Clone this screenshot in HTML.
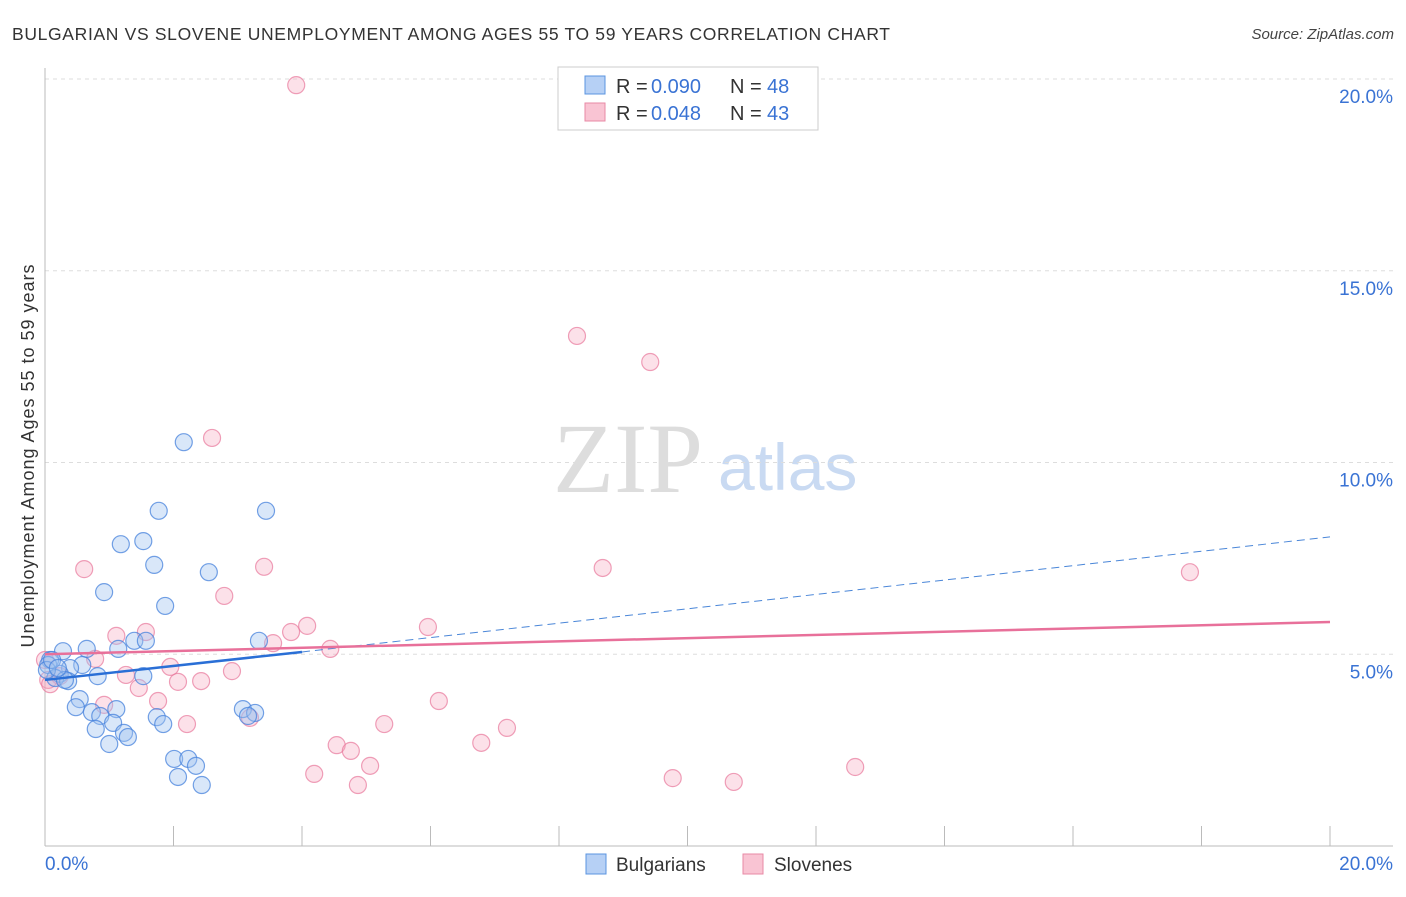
<!DOCTYPE html>
<html><head><meta charset="utf-8"><style>
body{margin:0;background:#fff;font-family:"Liberation Sans",sans-serif;}
</style></head><body>
<svg id="chart" width="1406" height="892" xmlns="http://www.w3.org/2000/svg" font-family="Liberation Sans, sans-serif">
<text x="12" y="40" font-size="17.5" fill="#333" textLength="878" lengthAdjust="spacing">BULGARIAN VS SLOVENE UNEMPLOYMENT AMONG AGES 55 TO 59 YEARS CORRELATION CHART</text>
<text x="1394" y="39" font-size="15" fill="#444" text-anchor="end" font-style="italic">Source: ZipAtlas.com</text>
<text x="553" y="492" font-size="100" fill="#ddd" style="font-family:'Liberation Serif',serif">ZIP</text>
<text x="718" y="490" font-size="66" fill="#c9daf2">atlas</text>
<text transform="translate(34,456) rotate(-90)" font-size="18" fill="#333" text-anchor="middle" textLength="383" lengthAdjust="spacing">Unemployment Among Ages 55 to 59 years</text>
<g id="grid"></g><g id="axes"></g><g id="pts"></g><g id="trends"></g>
<g>
<rect x="558" y="67" width="260" height="63" fill="#fff" stroke="#ccc"/>
<rect x="585" y="76" width="20" height="18" fill="#b6d0f5" stroke="#5b94e0"/>
<rect x="585" y="103" width="20" height="18" fill="#f9c4d3" stroke="#e88aa6"/>
<text x="616" y="93" font-size="20" fill="#333">R =</text>
<text x="651" y="93" font-size="20" fill="#3a73d4">0.090</text>
<text x="730" y="93" font-size="20" fill="#333">N =</text>
<text x="767" y="93" font-size="20" fill="#3a73d4">48</text>
<text x="616" y="120" font-size="20" fill="#333">R =</text>
<text x="651" y="120" font-size="20" fill="#3a73d4">0.048</text>
<text x="730" y="120" font-size="20" fill="#333">N =</text>
<text x="767" y="120" font-size="20" fill="#3a73d4">43</text>
</g>
<g>
<rect x="586" y="854" width="20" height="20" fill="#b6d0f5" stroke="#5b94e0"/>
<text x="616" y="871" font-size="19" fill="#333">Bulgarians</text>
<rect x="743" y="854" width="20" height="20" fill="#f9c4d3" stroke="#e88aa6"/>
<text x="774" y="871" font-size="19" fill="#333">Slovenes</text>
</g>
</svg>
<script>
const yTicks=[5,10,15,20];
const yTickLabels=["5.0%","10.0%","15.0%","20.0%"];
const xEndLabels=["0.0%","20.0%"];
const bulgX=[2.16,1.77,3.44,1.18,1.53,1.70,2.55,0.92,1.87,3.33,1.39,1.57,1.14,0.65,0.28,0.08,0.05,0.58,0.39,0.23,0.16,0.82,1.53,0.36,0.54,0.48,0.73,0.86,1.11,1.06,1.74,1.84,0.79,1.23,1.29,1.00,3.08,3.27,3.16,2.01,2.23,2.35,2.07,2.44,0.03,0.11,0.31,0.20];
const bulgY=[10.53,8.74,8.74,7.87,7.95,7.33,7.14,6.62,6.26,5.35,5.35,5.35,5.14,5.14,5.08,4.85,4.72,4.72,4.64,4.49,4.38,4.43,4.43,4.30,3.83,3.62,3.49,3.39,3.57,3.21,3.36,3.18,3.05,2.95,2.84,2.66,3.57,3.47,3.39,2.27,2.27,2.09,1.80,1.59,4.59,4.85,4.33,4.64];
const slovX=[3.91,8.28,9.42,2.60,0.61,3.41,8.68,17.82,2.79,4.08,3.83,1.11,1.57,5.96,3.55,4.44,0.78,1.95,2.91,1.26,2.07,2.43,1.46,0.92,1.76,6.13,2.21,5.28,3.19,7.19,4.54,4.76,6.79,5.06,4.19,12.61,9.77,10.72,4.87,0.05,0.23,0.08,0.0];
const slovY=[19.84,13.30,12.62,10.64,7.22,7.28,7.25,7.14,6.52,5.74,5.58,5.48,5.58,5.71,5.29,5.14,4.88,4.67,4.56,4.46,4.28,4.30,4.12,3.68,3.78,3.78,3.18,3.18,3.34,3.08,2.63,2.48,2.69,2.09,1.88,2.06,1.77,1.67,1.59,4.33,4.43,4.22,4.85];
const bulgTrend=[4.33,5.06,8.06];
const slovTrend=[5.0,5.84];
const NS="http://www.w3.org/2000/svg";
const X=v=>45+v*64.25, Y=v=>846-v*38.35;
function mk(t,a,p){const e=document.createElementNS(NS,t);for(const k in a)e.setAttribute(k,a[k]);document.getElementById(p).appendChild(e);return e;}
yTicks.forEach((t,i)=>{
 const l=mk('line',{x1:45,x2:1393,y1:Y(t),y2:Y(t),stroke:'#ddd','stroke-dasharray':'4,4'},'grid');
 
 
 const tx=mk('text',{x:1393,y:Y(t)+24,'font-size':19,fill:'#3a73d4','text-anchor':'end'},'grid');
 tx.textContent=yTickLabels[i];
 
 
});
const ax=mk('line',{x1:45,x2:45,y1:68,y2:846,stroke:'#bbb'},'axes');


const bx=mk('line',{x1:45,x2:1393,y1:846,y2:846,stroke:'#bbb'},'axes');


for(let i=0;i<=10;i++){const t=mk('line',{x1:X(i*2),x2:X(i*2),y1:826,y2:846,stroke:'#bbb'},'axes');
 
 }
const xl0=mk('text',{x:45,y:870,'font-size':19,fill:'#3a73d4'},'axes');xl0.textContent=xEndLabels[0];


const xl1=mk('text',{x:1393,y:870,'font-size':19,fill:'#3a73d4','text-anchor':'end'},'axes');xl1.textContent=xEndLabels[1];


slovX.forEach((v,i)=>{const c=mk('circle',{cx:X(v),cy:Y(slovY[i]),r:8.5,fill:'rgba(245,170,192,0.35)',stroke:'rgba(232,120,155,0.7)','stroke-width':1.2},'pts');
 
 });
bulgX.forEach((v,i)=>{const c=mk('circle',{cx:X(v),cy:Y(bulgY[i]),r:8.5,fill:'rgba(160,195,240,0.4)',stroke:'rgba(70,130,220,0.75)','stroke-width':1.2},'pts');
 
 });
const b1=mk('line',{x1:X(0),y1:Y(bulgTrend[0]),x2:X(4),y2:Y(bulgTrend[1]),stroke:'#2a6fd6','stroke-width':2.5},'trends');


const b2=mk('line',{x1:X(4),y1:Y(bulgTrend[1]),x2:X(20),y2:Y(bulgTrend[2]),stroke:'#4a86d8','stroke-width':1,'stroke-dasharray':'8,5'},'trends');


const s1=mk('line',{x1:X(0),y1:Y(slovTrend[0]),x2:X(20),y2:Y(slovTrend[1]),stroke:'#e8709a','stroke-width':2.5},'trends');


</script>
</body></html>
